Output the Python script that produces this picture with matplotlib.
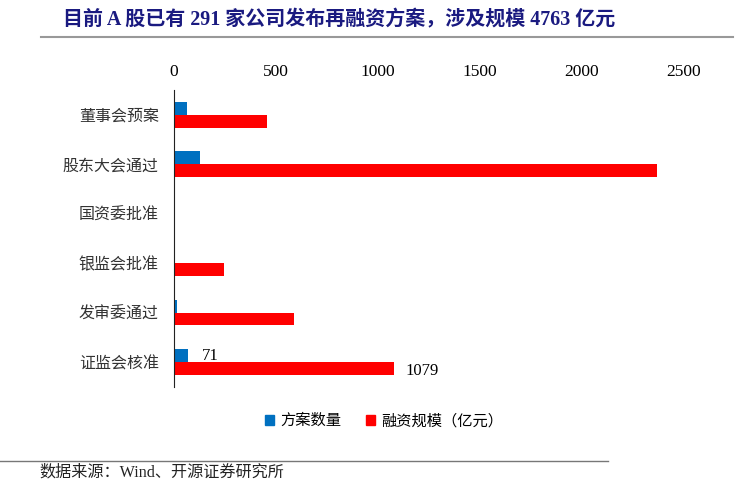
import matplotlib.pyplot as plt
import numpy as np
from matplotlib.lines import Line2D
from matplotlib.patches import Patch

# stages of the refinancing process
stages = ['董事会预案', '股东大会通过', '国资委批准', '银监会批准', '发审委通过', '证监会核准']
plan_count = [64, 128, 1, 0, 17, 71]           # 方案数量
financing = [455, 2366, 5, 245, 590, 1079]     # 融资规模（亿元）
xticks = [0, 500, 1000, 1500, 2000, 2500]

CJK = ['Liberation Serif', 'Noto Sans CJK SC']
plt.rcParams['font.family'] = CJK

fig = plt.figure(figsize=(7.5, 4.86), dpi=100)
ax = fig.add_axes([0.232, 0.204, 0.68, 0.611])

y = np.arange(len(stages))
h = 0.26
ax.barh(y - h / 2, plan_count, h, color='#0070C0', label='方案数量')
ax.barh(y + h / 2, financing, h, color='#FF0000', label='融资规模（亿元）')

ax.set_ylim(len(stages) - 0.5, -0.5)
ax.set_xlim(0, 2500)
ax.xaxis.tick_top()
ax.set_xticks(xticks)
ax.set_xticklabels([str(t) for t in xticks], fontsize=12.5)
ax.tick_params(axis='x', length=0, pad=7)
ax.set_yticks(y)
ax.set_yticklabels(stages, fontsize=11.5, color='#333333')
ax.tick_params(axis='y', length=0, pad=11)
for s in ['top', 'right', 'bottom']:
    ax.spines[s].set_visible(False)
ax.spines['left'].set_color('#222222')

# value labels on the last stage
last = len(stages) - 1
ax.text(plan_count[last] + 65, last - h / 2, str(plan_count[last]),
        va='center', ha='left', fontsize=12)
ax.text(financing[last] + 55, last + h / 2 + 0.05, str(financing[last]),
        va='center', ha='left', fontsize=12)

handles = [Patch(color='#0070C0'), Patch(color='#FF0000')]
fig.legend(handles, ['方案数量', '融资规模（亿元）'], loc='center',
           bbox_to_anchor=(0.512, 0.134), ncol=2, frameon=False,
           fontsize=11, handlelength=0.6, handleheight=0.6,
           handletextpad=0.4, columnspacing=1.6)

# title and separator lines
fig.text(0.084, 0.958, '目前 A 股已有 291 家公司发布再融资方案，涉及规模 4763 亿元',
         fontsize=14.4, fontweight='bold', color='#1a1a80', va='center', ha='left')
fig.add_artist(Line2D([0.055, 0.977], [0.924, 0.924], color='#999999', lw=1.5))
fig.add_artist(Line2D([0.0, 0.81], [0.052, 0.052], color='#777777', lw=1))
fig.text(0.053, 0.028, '数据来源：Wind、开源证券研究所', fontsize=11.6,
         color='#222222', va='center', ha='left')

fig.savefig('out.png', dpi=100)
